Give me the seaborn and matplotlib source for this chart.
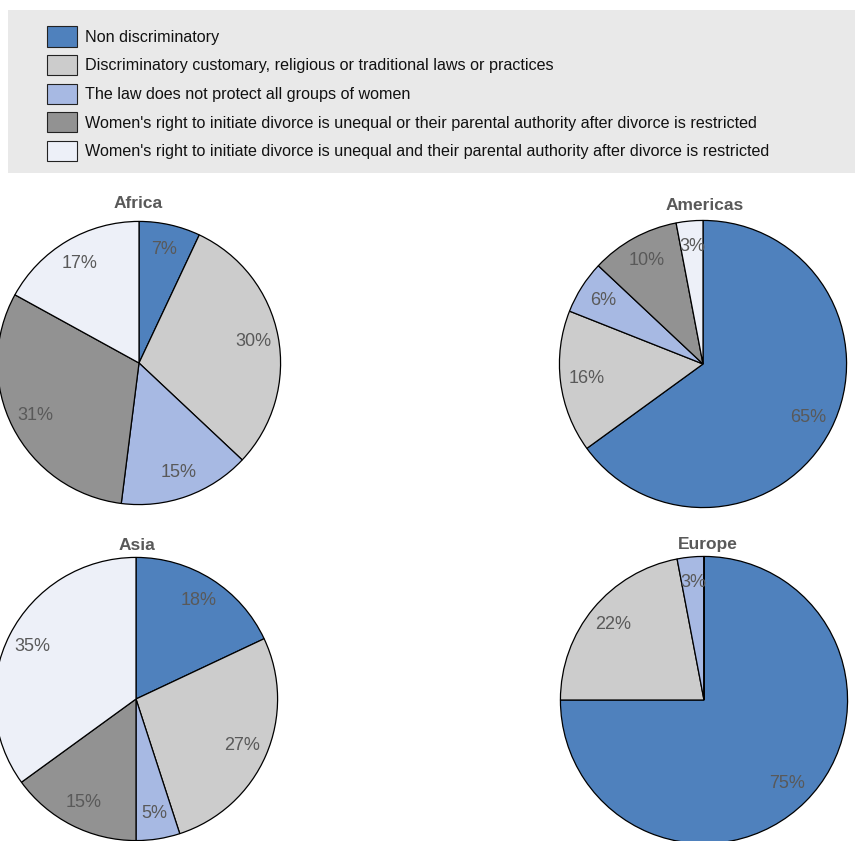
import matplotlib
matplotlib.use("Agg")
import matplotlib.pyplot as plt
from matplotlib.patches import Patch, Rectangle
import seaborn as sns

sns.set_theme(style="white")
plt.rcParams["font.family"] = ["Liberation Sans", "DejaVu Sans"]

categories = [
    "Non discriminatory",
    "Discriminatory customary, religious or traditional laws or practices",
    "The law does not protect all groups of women",
    "Women's right to initiate divorce is unequal or their parental authority after divorce is restricted",
    "Women's right to initiate divorce is unequal and their parental authority after divorce is restricted",
]
colors = ["#4F81BD", "#CCCCCC", "#A7B9E3", "#929292", "#EDF0F8"]

regions = ["Africa", "Americas", "Asia", "Europe"]
africa = [7, 30, 15, 31, 17]
americas = [65, 16, 6, 10, 3]
asia = [18, 27, 5, 15, 35]
europe = [75, 22, 3, 0, 0]
values = [africa, americas, asia, europe]

W, H = 855, 841
fig = plt.figure(figsize=(W / 100, H / 100), dpi=100)

# legend panel
fig.patches.append(Rectangle((8 / W, 1 - 173 / H), (W - 8) / W, 163 / H,
                             transform=fig.transFigure, facecolor="#E9E9E9",
                             edgecolor="none", zorder=0))
handles = [Patch(facecolor=c, edgecolor="#222222", linewidth=0.8) for c in colors]
leg = fig.legend(handles, categories, loc="upper left",
                 bbox_to_anchor=(41 / W, 1 - 20 / H), frameon=False,
                 fontsize=11.6, handlelength=1.85, handleheight=1.55,
                 labelspacing=0.52, handletextpad=0.5, borderaxespad=0)
for t in leg.get_texts():
    t.set_color("#111111")

# pie geometry in pixels: centre x, centre y (from top), radius, title position
layout = {
    "Africa": (139, 363, 143, 138, 204),
    "Americas": (703, 364, 145, 705, 205),
    "Asia": (136, 699, 143, 137, 545),
    "Europe": (704, 700, 145, 708, 544),
}

def fmt(p):
    return f"{p:.0f}%" if p >= 0.5 else ""

for region, vals in zip(regions, values):
    cx, cy, r, tx, ty = layout[region]
    ax = fig.add_axes([(cx - r) / W, (H - cy - r) / H, 2 * r / W, 2 * r / H])
    ax.pie(vals, colors=colors, startangle=90, counterclock=False,
           autopct=fmt, pctdistance=0.82,
           wedgeprops=dict(edgecolor="black", linewidth=0.9),
           textprops=dict(color="#595959", fontsize=13))
    ax.set_xlim(-1.01, 1.01)
    ax.set_ylim(-1.01, 1.01)
    ax.set_aspect("equal")
    ax.axis("off")
    fig.text(tx / W, 1 - ty / H, region, ha="center", va="center",
             fontsize=12.5, fontweight="bold", color="#595959")

fig.savefig("out.png", dpi=100)
